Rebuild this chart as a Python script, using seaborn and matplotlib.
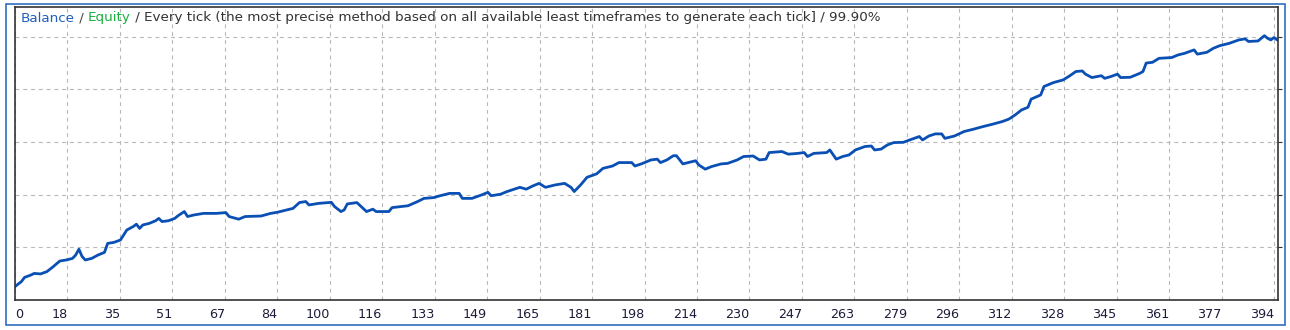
import numpy as np
import pandas as pd
import seaborn as sns
import matplotlib
matplotlib.use("Agg")
import matplotlib.pyplot as plt
from matplotlib.patches import Rectangle

# trade number and account balance
trades = [
    0, 2, 3, 5, 6, 8, 10, 12, 14, 16, 18, 19, 20, 21, 22, 24, 26, 28, 29, 31,
    33, 35, 37, 38, 39, 40, 42, 44, 45, 46, 48, 50, 51, 53, 54, 56, 59, 63, 66, 67,
    70, 72, 77, 80, 82, 85, 87, 89, 91, 92, 95, 99, 100, 102, 103, 104, 107, 110, 112, 113,
    117, 118, 123, 126, 128, 131, 133, 136, 139, 140, 143, 146, 148, 149, 152, 154, 158, 160, 162, 164,
    166, 169, 172, 174, 175, 177, 179, 182, 184, 187, 189, 193, 194, 196, 199, 201, 202, 204, 206, 207,
    209, 211, 213, 214, 216, 218, 221, 223, 226, 228, 231, 233, 235, 236, 240, 242, 245, 247, 248, 250,
    254, 255, 257, 259, 261, 263, 266, 268, 269, 271, 273, 275, 278, 280, 283, 284, 286, 288, 290, 291,
    294, 297, 300, 303, 306, 309, 311, 313, 315, 317, 318, 321, 322, 325, 328, 330, 332, 334, 335, 337,
    340, 341, 343, 345, 346, 349, 352, 353, 354, 356, 358, 362, 364, 366, 369, 370, 373, 375, 377, 380,
    383, 385, 386, 389, 391, 392, 393, 394, 395,
]
balance = [
    10510, 10700, 10860, 10950, 11010, 10990, 11080, 11270, 11480, 11520, 11580, 11710, 11930, 11650, 11520, 11580, 11710, 11810, 12150, 12190,
    12280, 12660, 12790, 12880, 12720, 12850, 12910, 13010, 13100, 12980, 13010, 13100, 13200, 13360, 13170, 13230, 13290, 13290, 13320, 13170,
    13070, 13170, 13190, 13290, 13330, 13420, 13480, 13700, 13740, 13610, 13670, 13710, 13550, 13360, 13420, 13650, 13700, 13360, 13450, 13360,
    13360, 13510, 13580, 13740, 13860, 13890, 13960, 14050, 14050, 13860, 13860, 13990, 14090, 13960, 14020, 14120, 14280, 14210, 14330, 14430,
    14280, 14370, 14430, 14280, 14120, 14370, 14660, 14790, 15000, 15090, 15220, 15220, 15090, 15170, 15320, 15350, 15220, 15320, 15480, 15480,
    15170, 15230, 15290, 15130, 14970, 15070, 15170, 15190, 15320, 15450, 15470, 15320, 15350, 15600, 15640, 15540, 15570, 15600, 15450, 15570,
    15600, 15700, 15350, 15450, 15510, 15700, 15830, 15850, 15700, 15730, 15890, 15980, 15990, 16080, 16210, 16080, 16230, 16310, 16310, 16140,
    16230, 16400, 16490, 16590, 16680, 16780, 16870, 17030, 17220, 17320, 17630, 17790, 18110, 18260, 18360, 18510, 18680, 18700, 18580, 18450,
    18520, 18420, 18490, 18580, 18450, 18460, 18610, 18680, 19000, 19030, 19180, 19210, 19310, 19370, 19500, 19340, 19410, 19560, 19660, 19750,
    19880, 19920, 19820, 19840, 20040, 19940, 19880, 19970, 19880,
]
tick_labels = [
    "0", "18", "35", "51", "67", "84", "100", "116", "133", "149", "165", "181", "198",
    "214", "230", "247", "263", "279", "296", "312", "328", "345", "361", "377", "394",
]
grid_levels = [12000, 14000, 16000, 18000, 20000]

W, H = 1290, 330
sns.set_style("white")
plt.rcParams["font.family"] = ["DejaVu Sans"]

fig = plt.figure(figsize=(W / 100, H / 100), dpi=100)
ax = fig.add_axes([15 / W, 30 / H, (1278 - 15) / W, (300 - 7) / H])

df = pd.DataFrame({"trade": trades, "balance": balance})
sns.lineplot(data=df, x="trade", y="balance", ax=ax, color="#0a4fb4",
             linewidth=2.0, estimator=None, sort=False)

x_last = float(tick_labels[-1])
xticks = np.linspace(0, x_last, len(tick_labels))
ax.set_xlim(0, x_last + 4 / 52.46 * (x_last / 24))
ax.set_ylim(10000, 21130)
ax.set_xticks(xticks)
ax.set_xticklabels(tick_labels)
ax.set_yticks(grid_levels)
ax.set_xlabel("")
ax.set_ylabel("")

ax.grid(True, color="#b8b8b8", linestyle=(0, (3.5, 3.5)), linewidth=0.8)
ax.tick_params(axis="x", direction="out", length=3, width=0.8, color="#333333",
               labelsize=9.2, labelcolor="#1c1c3a", pad=3)
ax.yaxis.tick_right()
ax.tick_params(axis="y", direction="out", length=3, width=0.8, color="#333333",
               labelright=False, labelleft=False)
for lbl in ax.get_xticklabels():
    lbl.set_ha("right")
ax.get_xticklabels()[0].set_ha("left")

for side in ["left", "right", "top", "bottom"]:
    ax.spines[side].set_visible(True)
    ax.spines[side].set_color("#333333")
    ax.spines[side].set_linewidth(1.2)

# outer blue frame
fig.patches.append(Rectangle((6 / W, 5 / H), 1279 / W, 321 / H, transform=fig.transFigure,
                             fill=False, edgecolor="#2f6fc0", linewidth=1.2))

# multi-coloured header
parts = [
    ("Balance", "#1f5fbf"),
    (" / ", "#444444"),
    ("Equity", "#18b040"),
    (" / Every tick (the most precise method based on all available least timeframes to generate each tick] / 99.90%", "#333333"),
]
fig.canvas.draw()
renderer = fig.canvas.get_renderer()
x = 21 / W
for s, c in parts:
    t = fig.text(x, 1 - 18 / H, s, color=c, fontsize=9.7, va="center", ha="left")
    bb = t.get_window_extent(renderer=renderer)
    x = bb.x1 / W

fig.savefig("out.png", dpi=100)
